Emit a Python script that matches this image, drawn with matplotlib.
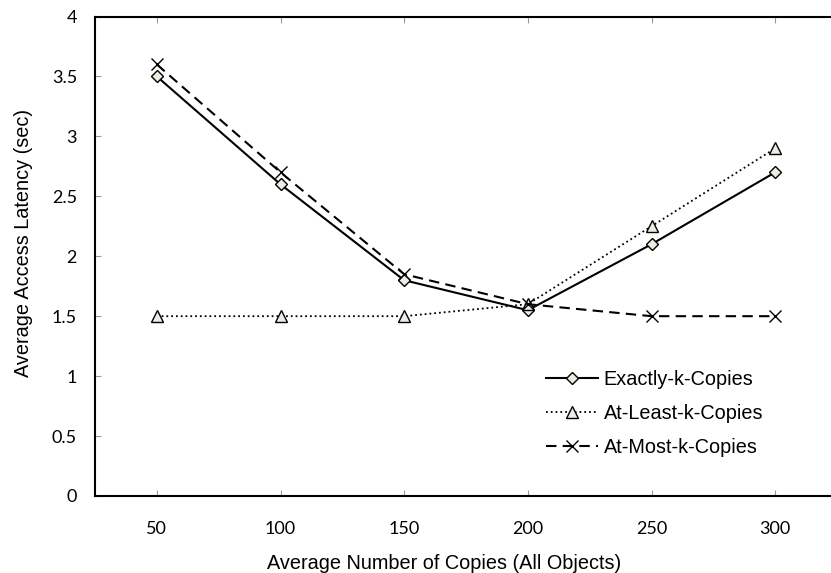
import numpy as np
import matplotlib.pyplot as plt

copies = [50, 100, 150, 200, 250, 300]
exactly = [3.5, 2.6, 1.8, 1.55, 2.1, 2.7]
at_least = [1.5, 1.5, 1.5, 1.6, 2.25, 2.9]
at_most = [3.6, 2.7, 1.85, 1.6, 1.5, 1.5]

fig = plt.figure(figsize=(8.31, 5.73), dpi=100)
# axes runs a bit past the right edge of the picture, like the original
ax = fig.add_axes([95/831, 77/573, (837-95)/831, (496-16.5)/573])

fill = '#ecece2'
ax.plot(copies, exactly, '-', color='black', lw=1.5, marker='D', ms=6,
        mfc=fill, mec='black', mew=1, label='Exactly-k-Copies')
ax.plot(copies, at_least, ':', color='black', lw=1.3, marker='^', ms=8.5,
        mfc=fill, mec='black', mew=1, label='At-Least-k-Copies')
ax.plot(copies, at_most, '--', color='black', lw=1.5, marker='x', ms=9,
        mfc=fill, mec='black', mew=1, dashes=(5, 3), label='At-Most-k-Copies')

ax.set_xlim(25, 325)
ax.set_ylim(0, 4)
ax.set_xticks(copies)
ax.set_yticks(np.arange(0, 4.01, 0.5))
ax.set_yticklabels(['0', '0.5', '1', '1.5', '2', '2.5', '3', '3.5', '4'])

ax.spines['right'].set_visible(False)
for s in ['left', 'bottom', 'top']:
    ax.spines[s].set_linewidth(1.5)
ax.tick_params(axis='x', direction='in', length=4, color='#999999', top=True,
               pad=18, labelsize=13)
ax.tick_params(axis='y', direction='in', length=4, color='#999999', pad=13,
               labelsize=13)
for lab in ax.get_xticklabels() + ax.get_yticklabels():
    lab.set_family('Lato')

ax.set_xlabel('Average Number of Copies (All Objects)', fontsize=14.3,
              family='Liberation Sans')
ax.set_ylabel('Average Access Latency (sec)', fontsize=14.3,
              family='Liberation Sans')
ax.xaxis.set_label_coords(0.470, -0.122)
ax.yaxis.set_label_coords(-0.084, 0.528)

ax.legend(loc='upper left', bbox_to_anchor=(528/831, 1 - 352/573),
          bbox_transform=fig.transFigure, frameon=False, handlelength=2.6,
          handletextpad=0.3, labelspacing=0.75,
          prop={'family': 'Liberation Sans', 'size': 14.3})

fig.savefig('out.png', dpi=100)
